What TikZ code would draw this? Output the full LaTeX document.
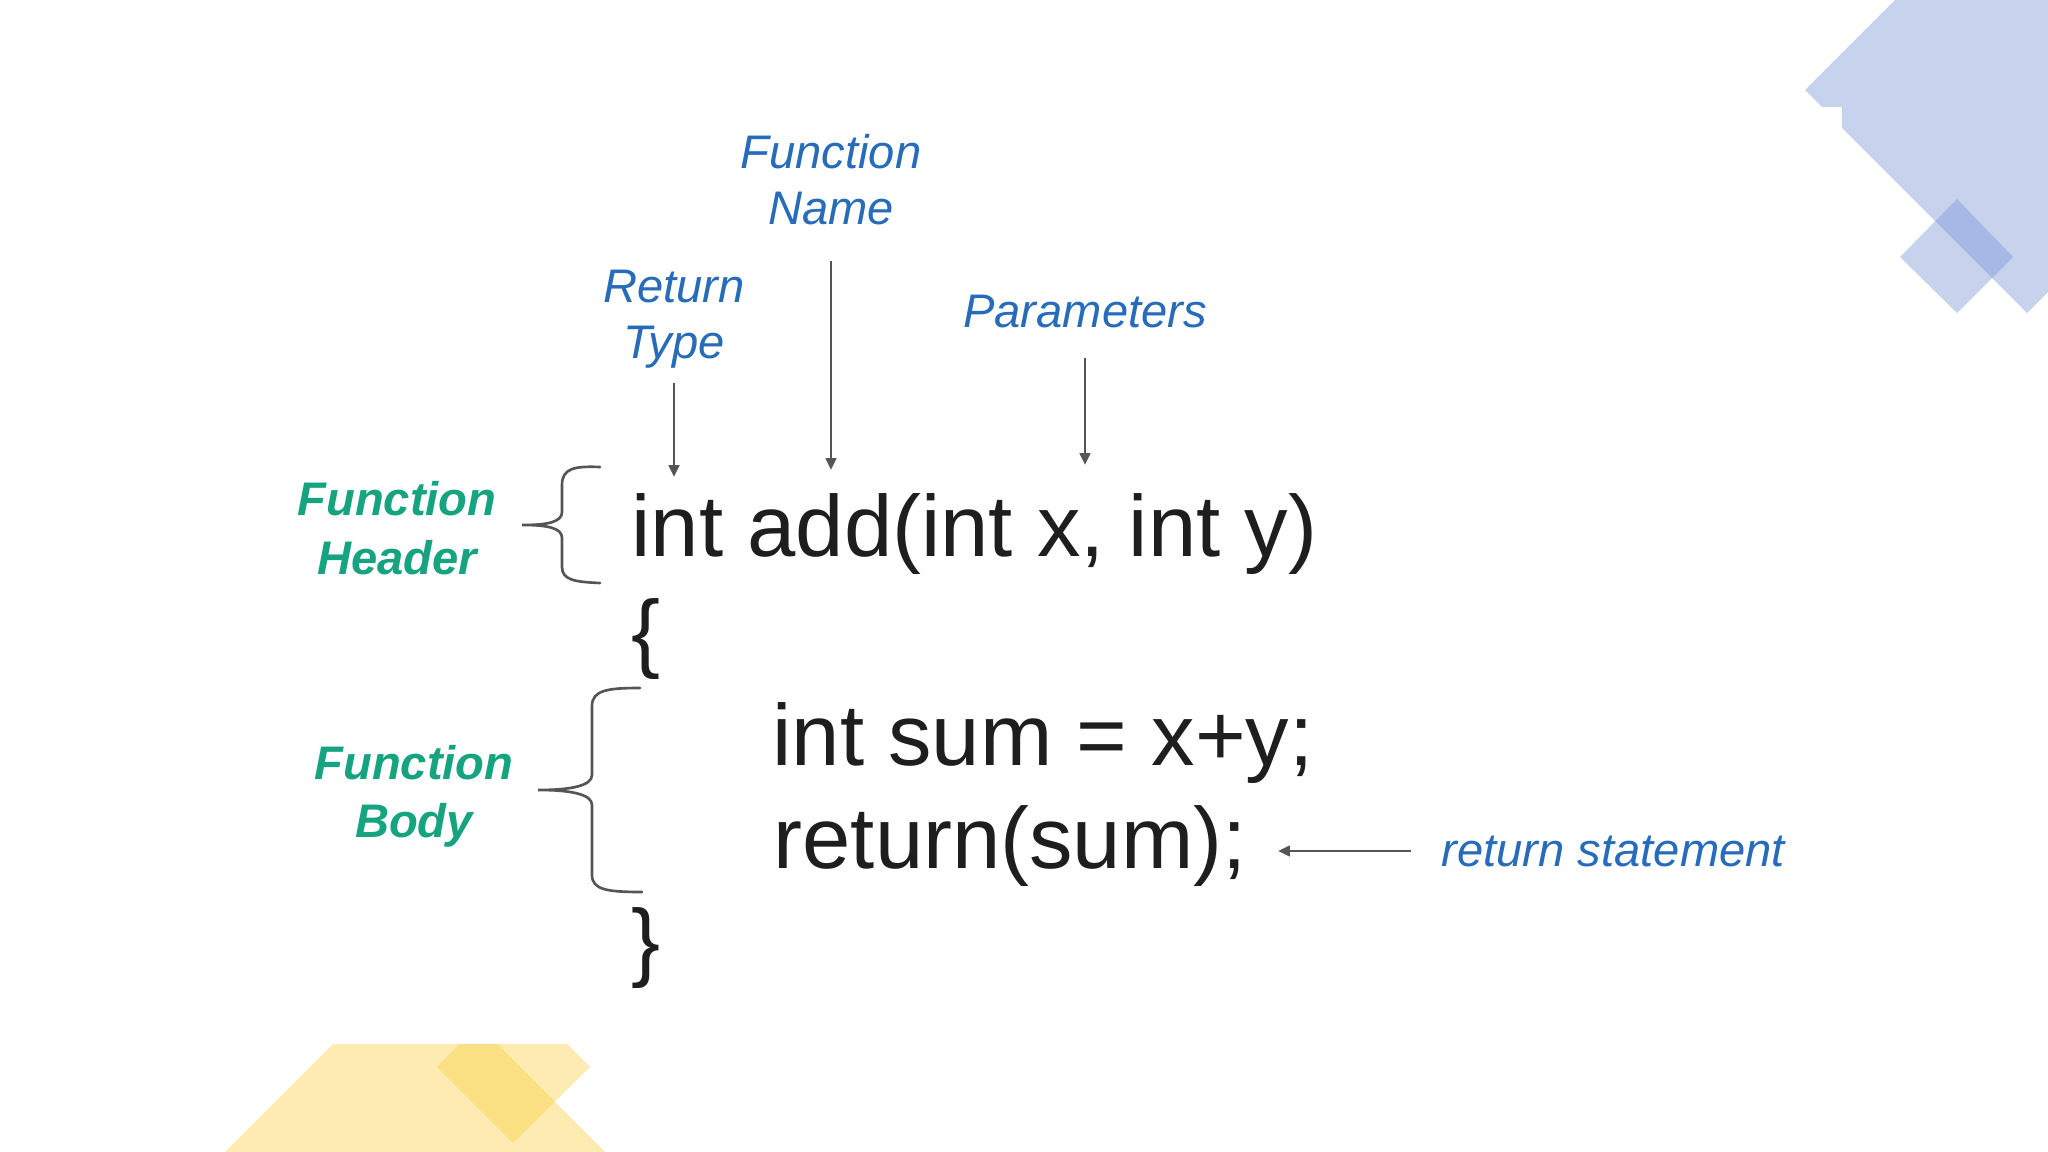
\documentclass[tikz,border=0pt]{standalone}
\usepackage{fontspec}
\setmainfont{Liberation Sans}
\usetikzlibrary{arrows.meta}
\definecolor{lblblue}{RGB}{38,108,186}
\definecolor{lblgreen}{RGB}{22,163,128}
\definecolor{codec}{RGB}{30,30,30}
\definecolor{arrgray}{RGB}{85,85,85}
\definecolor{shapeblue}{RGB}{117,145,212}
\definecolor{shapeyellow}{RGB}{250,205,62}
\setlength{\tabcolsep}{0pt}
\renewcommand{\arraystretch}{1}
\begin{document}
\begin{tikzpicture}[x=0.01cm,y=-0.01cm,
  lbl/.style={text=lblblue, font=\fontsize{13.4pt}{15.65pt}\selectfont\itshape, inner sep=0pt, anchor=base},
  glbl/.style={text=lblgreen, font=\fontsize{13.4pt}{16.6pt}\selectfont\bfseries\itshape, inner sep=0pt, anchor=base},
  code/.style={text=codec, font=\fontsize{24.7pt}{29pt}\selectfont, inner sep=0pt, anchor=base west},
  arr/.style={draw=arrgray, line width=0.8pt, -{Triangle[length=3.4pt,width=3pt]}},
  brc/.style={draw=arrgray, line width=0.75pt, line cap=round},
  bshape/.style={fill=shapeblue, fill opacity=0.4},
  yshape/.style={fill=shapeyellow, fill opacity=0.4}]
\useasboundingbox (0,0) rectangle (2048,1152);
\fill[white] (0,0) rectangle (2048,1152);

% decorative shapes, top right
\fill[bshape] (1895,0) -- (1805,90) -- (1822,107) -- (1842,107) -- (1842,128)
  -- (2027,313) -- (2048,292) -- (2048,0) -- cycle;
\fill[bshape] (1957,199) -- (2013,257) -- (1957,313) -- (1900,257) -- cycle;

% decorative shapes, bottom left
\begin{scope}
  \clip (0,1044) rectangle (2048,1152);
  \fill[yshape] (333,1044) -- (497,1044) -- (605,1152) -- (225,1152) -- cycle;
  \fill[yshape] (437,1067) -- (513,990) -- (590,1067) -- (513,1143) -- cycle;
\end{scope}

% code
\node[code] (hdr)  at (631,557) {int add(int x, int y)};
\node[code] (open) at (631,662) {\{};
\node[code] (sum)  at (772,765) {int sum = x+y;};
\node[code] (ret)  at (773,868) {return(sum);};
\node[code] (close) at (631,970) {\}};

% labels
\node[lbl] (fname) at (831,169) {\begin{tabular}[t]{c}Function\\Name\end{tabular}};
\node[lbl] (rtype) at (674,303) {\begin{tabular}[t]{c}Return\\Type\end{tabular}};
\node[lbl] (params) at (1085,328) {\begin{tabular}[t]{c}Parameters\end{tabular}};
\node[lbl, anchor=base west] (rs) at (1441,866) {return statement};
\node[glbl] (fhead) at (397,516) {\begin{tabular}[t]{c}Function\\Header\end{tabular}};
\node[glbl] (fbody) at (414,779) {\begin{tabular}[t]{c}Function\\Body\end{tabular}};

% arrow tips
\coordinate (rtTip) at (674,477);
\coordinate (fnTip) at (831,470);
\coordinate (paTip) at (1085,465);
\coordinate (rsTip) at (1278,849);

\draw[arr, shorten <=2.2pt] (rtype.south) -- (rtype.south |- rtTip);
\draw[arr, shorten <=5.6pt] (fname.south) -- (fname.south |- fnTip);
\draw[arr, shorten <=3.6pt] (params.south) -- (params.south |- paTip);
\draw[arr, shorten <=8.5pt] (rs.west) -- (rs.west -| rsTip);

% braces
\draw[brc] (600,467) .. controls (575,466) and (562,468) .. (562,485) -- (562,512)
  .. controls (562,522) and (548,525) .. (522,525)
  .. controls (548,525) and (562,528) .. (562,538) -- (562,567)
  .. controls (562,580) and (575,582) .. (600,583);
\draw[brc] (640,688) .. controls (608,688) and (592,690) .. (592,706) -- (592,775)
  .. controls (592,786) and (570,790) .. (538,790)
  .. controls (570,790) and (592,794) .. (592,805) -- (592,875)
  .. controls (592,890) and (608,892) .. (642,892);
\end{tikzpicture}
\end{document}
